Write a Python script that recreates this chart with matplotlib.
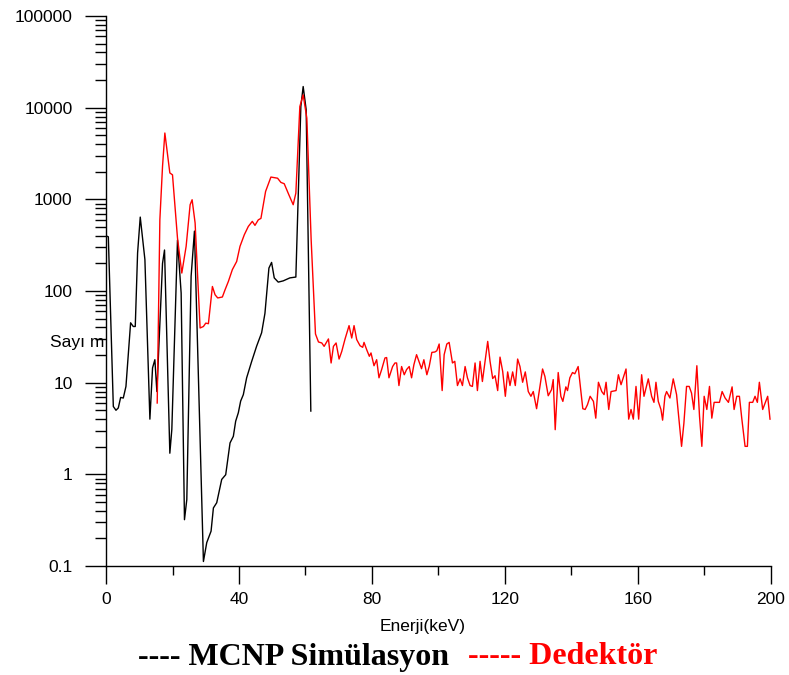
import matplotlib
matplotlib.use("Agg")
import matplotlib.pyplot as plt
from matplotlib.ticker import LogLocator, FixedLocator, MultipleLocator, NullFormatter

# ---- data ----
mcnp_x = [0, 0.7, 2.2, 3.0, 3.7, 4.4, 5.2, 6.0, 7.4, 8.2, 8.8, 9.5, 10.3, 11.7, 13.2,
          14.0, 14.7, 15.3, 17.0, 17.6, 19.2, 19.8, 21.5, 22.6, 23.6, 24.3, 25.6, 26.6,
          29.3, 30.3, 31.6, 32.3, 33.3, 34.8, 36.0, 37.3, 38.3, 39.0, 39.8, 40.5, 41.3,
          42.3, 43.8, 45.3, 46.8, 47.8, 49.0, 49.8, 50.6, 51.8, 53.3, 55.3, 57.1, 58.6,
          59.3, 60.2, 61.6]
mcnp_y = [400, 390, 5.5, 5.0, 5.3, 6.9, 6.8, 9.1, 45, 41, 41, 260, 640, 220, 4.0,
          14.5, 17.8, 8.0, 200, 280, 1.7, 3.1, 360, 95, 0.32, 0.53, 145, 450,
          0.112, 0.18, 0.24, 0.43, 0.49, 0.88, 0.99, 2.2, 2.6, 3.8, 4.7, 6.3, 7.4,
          11.3, 17, 25, 35, 57, 178, 205, 139, 125, 129, 139, 142, 10300,
          17000, 9500, 4.9]

det_x = [15.4, 16.2, 17.0, 17.7, 19.2, 20.0, 21.5, 22.8, 24.1, 25.3, 25.9, 26.8, 28.3,
         29.3, 30.0, 30.8, 32.0, 32.8, 33.6, 35.0, 35.8, 36.8, 38.0, 39.3, 40.3, 41.6,
         42.8, 44.0, 44.8, 45.8, 46.6, 48.0, 49.6, 51.6, 52.6, 53.6, 55.0, 56.3, 57.1,
         58.3, 59.3, 60.4, 61.7, 63.0, 63.9, 64.9, 65.6, 66.9, 67.7, 68.4, 69.2, 70.1,
         70.9, 71.9, 73.1, 73.9, 74.6, 75.4, 76.4, 77.2, 77.6, 78.4, 79.2, 79.7, 80.6,
         81.4, 82.1, 82.9, 83.9, 84.4, 85.1, 86.2, 86.9, 87.4, 88.1, 88.9, 89.7, 90.4,
         91.2, 91.9, 92.6, 93.4, 94.1, 94.9, 95.6, 96.5, 97.2, 98.0, 98.9, 99.5, 100.2,
         101.1, 101.7, 102.5, 103.2, 104.2, 104.9, 105.7, 106.5, 107.2, 108.0, 108.7,
         109.5, 110.2, 111.0, 111.7, 112.5, 113.2, 114.8, 115.5, 116.3, 117.0, 117.8,
         118.5, 119.3, 120.1, 120.8, 121.5, 122.3, 123.1, 123.8, 124.5, 125.3, 126.1,
         127.0, 127.8, 128.5, 129.5, 130.7, 131.3, 132.0, 133.0, 134.0, 134.5, 135.1,
         136.0, 136.8, 137.4, 138.3, 138.8, 139.5, 140.3, 141.0, 142.0, 143.4, 144.1,
         144.8, 145.6, 146.6, 147.3, 148.1, 149.1, 149.8, 150.4, 151.2, 151.9, 153.4,
         154.1, 154.9, 156.4, 157.2, 157.9, 158.6, 159.4, 160.2, 161.1, 161.8, 163.1,
         164.1, 164.8, 165.4, 166.1, 166.9, 167.4, 168.1, 168.6, 169.6, 170.6, 171.6,
         173.1, 173.8, 174.6, 175.4, 176.1, 176.8, 177.7, 178.5, 179.2, 179.9, 180.7,
         181.5, 182.2, 182.9, 184.5, 185.3, 186.2, 187.2, 188.3, 188.9, 189.7, 190.5,
         191.2, 192.2, 192.9, 193.5, 194.5, 195.2, 195.9, 196.5, 197.5, 199.0, 199.7]
det_y = [6.0, 600, 2285, 5290, 1940, 1850, 378, 157, 307, 873, 990, 552, 39.5,
         41, 44.6, 44, 112, 91, 84, 86, 103, 127, 171, 210, 307, 411,
         506, 575, 520, 597, 620, 1220, 1750, 1700, 1530, 1480, 1120, 873, 1170,
         10300, 13800, 7700, 362, 34, 27.8, 27.1, 24.9, 30, 16.4, 24.9, 27.1, 18.1,
         21.9, 30, 41.9, 30.7, 41.9, 29.5, 25.3, 24.3, 27.5, 22.9, 19.4, 21.1, 15.3,
         17.8, 11.3, 13.9, 18.6, 18.8, 11.3, 15, 16.4, 16.4, 9.3, 15, 12.2, 13.9,
         15, 11.3, 15.7, 20.2, 17.1, 14.2, 17.8, 12.2, 15, 21.4, 21.6, 22.3, 26.4,
         8.2, 20.2, 26.4, 27.5, 16.4, 17.1, 9.3, 11, 9.3, 15, 11.3,
         9.3, 9.1, 16.4, 8.2, 17.1, 10.3, 28.2, 17.1, 11.1, 11.9, 8.2,
         19, 13.3, 7.1, 13.1, 9.3, 13.1, 9.3, 18.1, 15, 10.1, 13.1,
         8.0, 7.1, 8.0, 5.2, 10, 14.1, 11.7, 7.2, 8.4, 10.8, 3.07,
         12.9, 7.1, 6.25, 9.0, 8.2, 11.3, 12.9, 12.5, 15, 5.2, 5.1,
         5.75, 7.1, 6.25, 4.1, 10.1, 8.0, 7.4, 10.1, 5.1, 8.0, 8.2,
         12.2, 9.5, 14.1, 4.0, 5.1, 4.0, 9.1, 4.0, 12.2, 7.1, 11.0,
         7.1, 6.1, 10.1, 6.25, 5.1, 3.9, 7.1, 8.0, 6.8, 11, 7.4,
         2.02, 3.6, 9.1, 9.1, 7.7, 5.1, 15.3, 4.3, 2.02, 7.1, 5.1,
         9.1, 4.1, 6.1, 6.1, 8.0, 6.8, 6.1, 9.0, 5.1, 7.1, 7.1,
         4.1, 2.02, 2.02, 6.1, 6.1, 7.1, 6.1, 10.1, 5.1, 7.1, 4.0]

x_ticks = [0, 40, 80, 120, 160, 200]
y_ticks = [0.1, 1, 10, 100, 1000, 10000, 100000]
y_tick_labels = ["0.1", "1", "10", "100", "1000", "10000", "100000"]

W, H = 789, 675
fig = plt.figure(figsize=(W / 100, H / 100), dpi=100)
ax = fig.add_axes([106 / W, (H - 566) / H, (771 - 106) / W, (566 - 16) / H])

ax.plot(mcnp_x, mcnp_y, color="black", lw=1.0)
ax.plot(det_x, det_y, color="#ff0000", lw=1.0)

ax.set_yscale("log")
ax.set_xlim(0, 200)
ax.set_ylim(0.1, 100000)

for s in ["top", "right"]:
    ax.spines[s].set_visible(False)
for s in ["left", "bottom"]:
    ax.spines[s].set_linewidth(1.0)

ax.xaxis.set_major_locator(FixedLocator(x_ticks))
ax.xaxis.set_minor_locator(MultipleLocator(20))
ax.set_xticklabels([str(v) for v in x_ticks])
ax.yaxis.set_major_locator(FixedLocator(y_ticks))
ax.set_yticklabels(y_tick_labels)
ax.yaxis.set_minor_locator(LogLocator(base=10, subs=range(2, 10), numticks=20))
ax.yaxis.set_minor_formatter(NullFormatter())

tick_font = "Liberation Sans"
ax.tick_params(axis="y", which="major", direction="out", length=15, width=1, pad=9,
               labelsize=12.5)
ax.tick_params(axis="y", which="minor", direction="out", length=8, width=1)
ax.tick_params(axis="x", which="major", direction="out", length=13, width=1, pad=6,
               labelsize=12.5)
ax.tick_params(axis="x", which="minor", direction="out", length=6.5, width=1)
for lab in ax.get_xticklabels() + ax.get_yticklabels():
    lab.set_fontfamily(tick_font)

fig.text(423 / W, (H - 627) / H, "Enerji(keV)", ha="center", va="center",
         fontsize=12.5, family=tick_font)
fig.text(104 / W, (H - 342) / H, "Sayı m", ha="right", va="center",
         fontsize=12.5, family=tick_font)

fig.text(138 / W, (H - 657) / H, "---- MCNP Simülasyon", ha="left", va="center",
         fontsize=23, fontweight="bold", family="Liberation Serif", color="black")
fig.text(468 / W, (H - 657) / H, "----- Dedektör", ha="left", va="center",
         fontsize=23, fontweight="bold", family="Liberation Serif", color="#ff0000")

fig.savefig("out.png", dpi=100)
